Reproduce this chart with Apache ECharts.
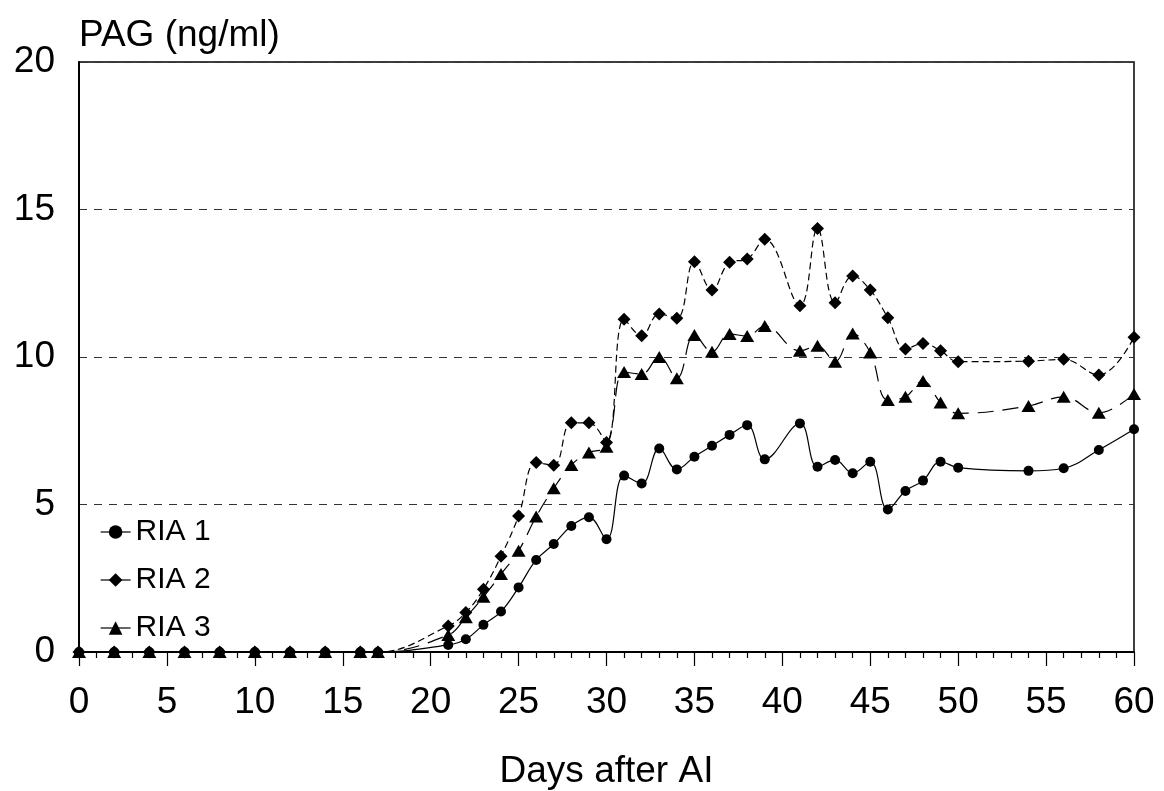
<!DOCTYPE html>
<html>
<head>
<meta charset="utf-8">
<title>PAG (ng/ml)</title>
<script src="https://cdn.jsdelivr.net/npm/echarts@6/dist/echarts.min.js"></script>
<style>
  html, body { margin: 0; padding: 0; background: #fff; }
  #chart { width: 1164px; height: 791px; }
</style>
</head>
<body>
<div id="chart"></div>
<script>
// Sampling days after artificial insemination
const days = [0, 2, 4, 6, 8, 10, 12, 14, 16, 17,
  21, 22, 23, 24, 25, 26, 27, 28, 29, 30,
  31, 32, 33, 34, 35, 36, 37, 38, 39,
  41, 42, 43, 44, 45, 46, 47, 48, 49, 50,
  54, 56, 58, 60];

// PAG concentration (ng/ml) measured by each assay
const ria1 = [0, 0, 0, 0, 0, 0, 0, 0, 0, 0,
  0.24, 0.43, 0.92, 1.37, 2.19, 3.12, 3.66, 4.27, 4.57, 3.82,
  5.98, 5.71, 6.90, 6.19, 6.62, 6.99, 7.36, 7.69, 6.53,
  7.75, 6.28, 6.51, 6.06, 6.45, 4.83, 5.46, 5.81, 6.45, 6.25,
  6.14, 6.23, 6.85, 7.55];

const ria2 = [0, 0, 0, 0, 0, 0, 0, 0, 0, 0,
  0.88, 1.34, 2.13, 3.25, 4.61, 6.42, 6.33, 7.77, 7.77, 7.10,
  11.28, 10.72, 11.46, 11.31, 13.23, 12.27, 13.21, 13.32, 13.99,
  11.74, 14.36, 11.84, 12.75, 12.27, 11.33, 10.27, 10.46, 10.21, 9.84,
  9.86, 9.92, 9.39, 10.67];

const ria3 = [0, 0, 0, 0, 0, 0, 0, 0, 0, 0,
  0.58, 1.18, 1.87, 2.64, 3.43, 4.59, 5.55, 6.34, 6.76, 6.96,
  9.49, 9.42, 10.00, 9.28, 10.75, 10.18, 10.78, 10.71, 11.05,
  10.21, 10.38, 9.84, 10.80, 10.15, 8.54, 8.65, 9.19, 8.46, 8.09,
  8.34, 8.65, 8.11, 8.75];

const seriesNames = ['RIA 1', 'RIA 2', 'RIA 3'];
const yTicks = [0, 5, 10, 15, 20];

const FONT = '"Liberation Sans", Arial, Helvetica, sans-serif';

function pairs(values) {
  return days.map((d, i) => [d, values[i]]);
}

const chart = echarts.init(document.getElementById('chart'), null, { renderer: 'canvas' });

chart.setOption({
  animation: false,
  backgroundColor: '#ffffff',
  textStyle: { fontFamily: FONT, color: '#000' },
  grid: {
    left: 79, right: 30, top: 62, bottom: 139,
    containLabel: false,
    outerBoundsMode: 'none',
    show: true, borderColor: '#000', borderWidth: 1.5,
    backgroundColor: 'transparent'
  },
  legend: {
    orient: 'vertical',
    left: 95,
    top: 512,
    itemWidth: 30,
    itemHeight: 17,
    itemGap: 18,
    data: seriesNames,
    lineStyle: { type: 'solid', width: 1.2, color: '#000' },
    textStyle: { fontFamily: FONT, fontSize: 30, color: '#000', lineHeight: 30 }
  },
  xAxis: {
    type: 'value',
    min: 0, max: 60, interval: 5,
    name: 'Days after AI',
    nameLocation: 'middle',
    nameGap: 101,
    nameTextStyle: { fontFamily: FONT, fontSize: 37, color: '#000' },
    axisLine: { show: true, onZero: false, lineStyle: { color: '#000', width: 2 } },
    axisTick: { show: true, inside: false, length: 14, lineStyle: { color: '#000', width: 1.2 } },
    minorTick: { show: true, splitNumber: 5, length: 6, lineStyle: { color: '#000', width: 1.2 } },
    axisLabel: { fontFamily: FONT, fontSize: 37, color: '#000', margin: 32 },
    splitLine: { show: false }
  },
  yAxis: {
    type: 'value',
    min: yTicks[0], max: yTicks[yTicks.length - 1], interval: 5,
    name: 'PAG (ng/ml)',
    nameLocation: 'end',
    nameGap: 8,
    nameTextStyle: { fontFamily: FONT, fontSize: 37, color: '#000', align: 'left', verticalAlign: 'bottom' },
    axisLine: { show: true, lineStyle: { color: '#000', width: 2 } },
    axisTick: { show: false },
    axisLabel: { fontFamily: FONT, fontSize: 37, color: '#000', margin: 24 },
    splitLine: { show: true, lineStyle: { color: '#333', width: 1, type: [8, 7] } }
  },
  series: [
    {
      name: seriesNames[0],
      type: 'line',
      data: pairs(ria1),
      smooth: 0.4,
      symbol: 'circle',
      symbolSize: 10,
      itemStyle: { color: '#000' },
      lineStyle: { color: '#000', width: 1.2, type: 'solid' },
      z: 3
    },
    {
      name: seriesNames[1],
      type: 'line',
      data: pairs(ria2),
      smooth: 0.4,
      symbol: 'diamond',
      symbolSize: 13,
      itemStyle: { color: '#000' },
      lineStyle: { color: '#000', width: 1.2, type: [7, 4] },
      z: 4
    },
    {
      name: seriesNames[2],
      type: 'line',
      data: pairs(ria3),
      smooth: 0.4,
      symbol: 'triangle',
      symbolSize: [14, 12],
      itemStyle: { color: '#000' },
      lineStyle: { color: '#000', width: 1.2, type: [16, 9] },
      z: 5
    }
  ]
});
</script>
</body>
</html>
